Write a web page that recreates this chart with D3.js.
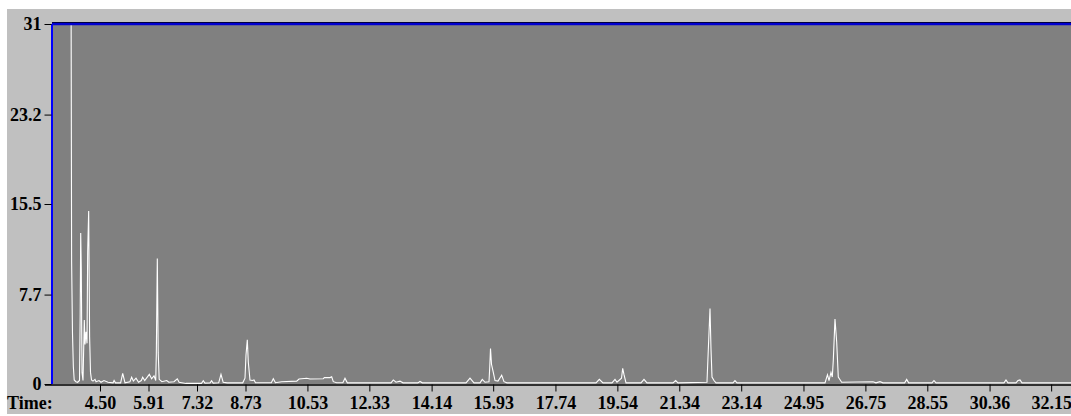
<!DOCTYPE html>
<html><head><meta charset="utf-8">
<script src="https://cdn.jsdelivr.net/npm/d3@7"></script>
<style>
html,body{margin:0;padding:0;background:#fff;}
svg{display:block;}
</style></head>
<body>
<script>
// Retention time (min) and intensity
const times = [
 3.655,3.675,3.700,3.725,3.750,3.800,3.850,3.904,3.924,3.939,3.956,3.977,4.006,4.044,4.064,4.093,4.122,4.142,4.171,4.198,4.224,4.253,4.297,4.355,4.384,4.471,4.529,4.616,4.733,
 4.880,4.910,4.950,5.100,5.160,5.227,5.370,5.420,5.470,5.547,5.620,5.700,5.741,5.800,5.934,6.000,6.070,6.120,6.137,6.166,6.192,6.221,
 6.300,6.440,6.500,6.650,6.747,6.800,7.000,7.450,7.503,7.550,7.700,7.744,7.790,7.950,8.017,8.080,8.200,8.650,8.715,8.744,8.782,8.811,8.860,8.930,8.977,9.020,
 9.480,9.538,9.600,9.780,10.218,10.285,10.510,10.605,10.990,11.020,11.186,11.235,11.282,11.380,11.560,11.622,11.690,
 12.960,13.026,13.105,13.221,13.308,13.740,13.802,13.870,15.140,15.256,15.372,15.547,15.613,15.692,15.808,15.831,15.852,15.881,15.933,15.983,16.070,16.177,16.244,16.331,
 18.919,19.015,19.122,19.384,19.471,19.529,19.660,19.695,19.733,19.791,20.227,20.314,20.401,21.157,21.235,21.302,
 22.145,22.189,22.233,22.262,22.291,22.349,22.407,22.901,22.959,23.017,
 25.576,25.648,25.692,25.750,25.788,25.817,25.866,25.916,25.962,26.060,
 26.971,27.058,27.174,27.262,27.892,27.950,28.008,28.686,28.744,28.802,30.779,30.837,30.895,31.128,31.186,31.244,31.302,32.727
];
const intensity = [
 40,10.5,4.4,1.5,0.35,0.2,0.15,0.3,6.0,13.0,9.9,1.0,0.3,5.5,3.4,4.5,3.5,11.4,14.9,4.1,1.0,0.35,0.25,0.4,0.2,0.3,0.15,0.3,0.15,
 0.1,0.3,0.1,0.1,0.92,0.1,0.2,0.58,0.25,0.5,0.15,0.3,0.58,0.3,0.83,0.45,0.7,0.3,2.5,10.8,2.7,0.4,
 0.2,0.3,0.15,0.2,0.45,0.15,0.05,0.05,0.28,0.08,0.1,0.28,0.08,0.1,0.83,0.15,0.1,0.1,0.5,2.5,3.8,1.9,0.35,0.3,0.35,0.11,
 0.11,0.45,0.11,0.2,0.25,0.43,0.5,0.43,0.45,0.55,0.55,0.62,0.2,0.11,0.11,0.5,0.1,
 0.1,0.35,0.15,0.25,0.1,0.1,0.22,0.1,0.1,0.5,0.1,0.1,0.4,0.15,0.2,1.5,3.05,1.7,1.0,0.3,0.25,0.75,0.2,0.1,
 0.1,0.4,0.1,0.1,0.4,0.15,0.5,1.35,0.8,0.1,0.1,0.4,0.1,0.1,0.3,0.1,
 0.15,3.35,6.5,3.0,0.6,0.3,0.1,0.1,0.3,0.1,
 0.1,0.8,0.3,1.0,0.6,2.05,5.6,3.6,0.6,0.15,
 0.2,0.1,0.2,0.1,0.1,0.4,0.1,0.1,0.3,0.1,0.1,0.35,0.1,0.1,0.3,0.35,0.1,0.1
];
const xTickValues = [4.50,5.91,7.32,8.73,10.53,12.33,14.14,15.93,17.74,19.54,21.34,23.14,24.95,26.75,28.55,30.36,32.15];
const yTickValues = [0,7.7,15.5,23.2,31];
const yTickLabels = ["0","7.7","15.5","23.2","31"];
const xAxisTitle = "Time:";

const W = 1071, H = 416;
const plot = {left:52, right:1071, top:24, bottom:384};
const FONT = "'Liberation Serif', 'Times New Roman', serif";
const FSIZE = 18;

const svg = d3.select("body").append("svg").attr("width",W).attr("height",H);

// panel background
svg.append("rect").attr("x",7).attr("y",9).attr("width",W-7).attr("height",405).attr("fill","#c0c0c0");
svg.append("rect").attr("x",plot.left).attr("y",plot.top).attr("width",plot.right-plot.left).attr("height",plot.bottom-plot.top).attr("fill","#808080");

const x = d3.scaleLinear().domain([3.1047, 32.727]).range([plot.left, plot.right]);
const y = d3.scaleLinear().domain([0, 31]).range([plot.bottom, plot.top]);

svg.append("clipPath").attr("id","clip").append("rect")
  .attr("x",plot.left+1).attr("y",plot.top).attr("width",plot.right-plot.left).attr("height",plot.bottom-plot.top);

const data = times.map((t,i)=>({t, v:intensity[i]}));
const line = d3.line().x(d=>x(d.t)).y(d=>y(d.v));
svg.append("path").datum(data).attr("clip-path","url(#clip)")
  .attr("d",line).attr("fill","none").attr("stroke","#ffffff").attr("stroke-width",1.1);

// borders
svg.append("line").attr("x1",plot.left).attr("x2",plot.right).attr("y1",plot.top).attr("y2",plot.top)
  .attr("stroke","#0000d0").attr("stroke-width",2.5);
svg.append("line").attr("x1",plot.left).attr("x2",plot.right).attr("y1",plot.top-1.5).attr("y2",plot.top-1.5)
  .attr("stroke","#000040").attr("stroke-width",1);
svg.append("line").attr("x1",plot.left).attr("x2",plot.left).attr("y1",plot.top).attr("y2",plot.bottom)
  .attr("stroke","#0000ff").attr("stroke-width",2);

// x axis
const xAxis = d3.axisBottom(x).tickValues(xTickValues).tickSize(7).tickPadding(3).tickFormat(d3.format(".2f"));
const gx = svg.append("g").attr("transform",`translate(0,${plot.bottom+0.5})`).call(xAxis)
  .attr("font-family",FONT).attr("font-size",FSIZE).attr("font-weight","bold");
gx.select(".domain").remove();
gx.selectAll(".tick line").attr("stroke","#000");
gx.selectAll(".tick text").attr("fill","#000").attr("dy","0.78em");
svg.append("line").attr("x1",plot.left-7).attr("x2",plot.right).attr("y1",plot.bottom+1).attr("y2",plot.bottom+1)
  .attr("stroke","#000").attr("stroke-width",1.3);

// y axis
const yAxis = d3.axisLeft(y).tickValues(yTickValues).tickSize(7).tickPadding(3)
  .tickFormat((d,i)=>yTickLabels[i]);
const gy = svg.append("g").attr("transform",`translate(${plot.left-0.5},0)`).call(yAxis)
  .attr("font-family",FONT).attr("font-size",FSIZE).attr("font-weight","bold");
gy.select(".domain").remove();
gy.selectAll(".tick line").attr("stroke","#000");
gy.selectAll(".tick text").attr("fill","#000");

svg.append("text").attr("x",7).attr("y",409).text(xAxisTitle)
  .attr("font-family",FONT).attr("font-size",FSIZE).attr("font-weight","bold").attr("fill","#000");
</script>
</body></html>
